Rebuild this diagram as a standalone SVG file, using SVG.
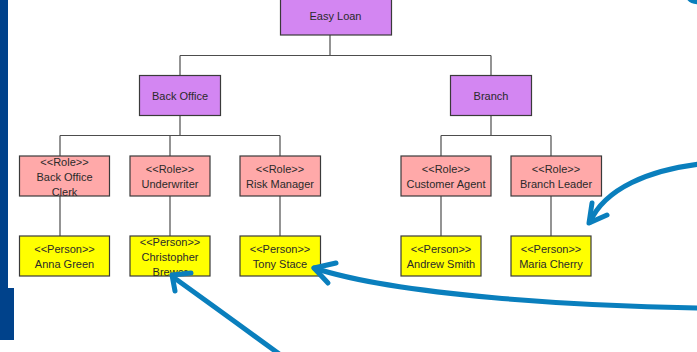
<svg xmlns="http://www.w3.org/2000/svg" width="697" height="352" viewBox="0 0 697 352">
  <style>
    .box { stroke: #3a3a3a; stroke-width: 1.2; }
    .org { fill: #d386f2; }
    .role { fill: #ffa9a9; }
    .person { fill: #ffff00; }
    .t { font-family: "Liberation Sans", Arial, sans-serif; font-size: 11px; fill: #2a2a2a; text-anchor: middle; }
    .link { fill: none; stroke: #4d4d4d; stroke-width: 1.2; }
    .callout { fill: none; stroke: #0a7fbd; stroke-width: 5; stroke-linecap: round; stroke-linejoin: round; }
  </style>

  <rect x="0" y="0" width="697" height="352" fill="#ffffff"/>

  <!-- side bar -->
  <rect x="0" y="0" width="8" height="292" fill="#00428b"/>
  <rect x="0" y="288" width="14" height="52" fill="#00428b"/>

  <!-- tree connectors -->
  <g id="connectors">
    <path class="link" d="M330,35 V55.5 M180,55.5 H491 M180,55.5 V75 M491,55.5 V75"/>
    <path class="link" d="M180,116 V135.5 M60,135.5 H280 M60,135.5 V156 M170,135.5 V156 M280,135.5 V156"/>
    <path class="link" d="M491,116 V135.5 M441,135.5 H551 M441,135.5 V156 M551,135.5 V156"/>
    <path class="link" d="M60,196 V236 M170,196 V236 M280,196 V236 M441,196 V236 M551,196 V236"/>
  </g>

  <g id="easy-loan">
    <rect class="box org" x="280.5" y="-2" width="111" height="37"/>
    <text class="t" x="335.5" y="19.5">Easy Loan</text>
  </g>
  <g id="back-office">
    <rect class="box org" x="139.5" y="75.5" width="81" height="40"/>
    <text class="t" x="180" y="99.5">Back Office</text>
  </g>
  <g id="branch">
    <rect class="box org" x="450.5" y="75.5" width="81" height="40"/>
    <text class="t" x="491" y="99.5">Branch</text>
  </g>

  <g id="role-back-office-clerk">
    <rect class="box role" x="19.5" y="156" width="90" height="40"/>
    <text class="t" x="64.5" y="165.5">&lt;&lt;Role&gt;&gt;</text>
    <text class="t" x="64.5" y="180.5">Back Office</text>
    <text class="t" x="64.5" y="195.5">Clerk</text>
  </g>
  <g id="role-underwriter">
    <rect class="box role" x="130" y="156" width="80" height="40"/>
    <text class="t" x="170" y="172.5">&lt;&lt;Role&gt;&gt;</text>
    <text class="t" x="170" y="187.5">Underwriter</text>
  </g>
  <g id="role-risk-manager">
    <rect class="box role" x="240" y="156" width="80.5" height="40"/>
    <text class="t" x="280" y="172.5">&lt;&lt;Role&gt;&gt;</text>
    <text class="t" x="280" y="187.5">Risk Manager</text>
  </g>
  <g id="role-customer-agent">
    <rect class="box role" x="401" y="156" width="90" height="40"/>
    <text class="t" x="446" y="172.5">&lt;&lt;Role&gt;&gt;</text>
    <text class="t" x="446" y="187.5">Customer Agent</text>
  </g>
  <g id="role-branch-leader">
    <rect class="box role" x="511" y="156" width="90.5" height="40"/>
    <text class="t" x="556" y="172.5">&lt;&lt;Role&gt;&gt;</text>
    <text class="t" x="556" y="187.5">Branch Leader</text>
  </g>

  <g id="person-anna-green">
    <rect class="box person" x="19.5" y="236" width="90" height="40"/>
    <text class="t" x="64.5" y="253">&lt;&lt;Person&gt;&gt;</text>
    <text class="t" x="64.5" y="268">Anna Green</text>
  </g>
  <g id="person-christopher-brewer">
    <rect class="box person" x="130" y="236" width="80" height="40"/>
    <text class="t" x="170" y="246">&lt;&lt;Person&gt;&gt;</text>
    <text class="t" x="170" y="261">Christopher</text>
    <text class="t" x="170" y="276">Brewer</text>
  </g>
  <g id="person-tony-stace">
    <rect class="box person" x="240" y="236" width="80.5" height="40"/>
    <text class="t" x="280" y="253">&lt;&lt;Person&gt;&gt;</text>
    <text class="t" x="280" y="268">Tony Stace</text>
  </g>
  <g id="person-andrew-smith">
    <rect class="box person" x="401" y="236" width="80" height="40"/>
    <text class="t" x="441" y="253">&lt;&lt;Person&gt;&gt;</text>
    <text class="t" x="441" y="268">Andrew Smith</text>
  </g>
  <g id="person-maria-cherry">
    <rect class="box person" x="511" y="236" width="80" height="40"/>
    <text class="t" x="551" y="253">&lt;&lt;Person&gt;&gt;</text>
    <text class="t" x="551" y="268">Maria Cherry</text>
  </g>

  <!-- hand-drawn callout arrows -->
  <g id="callouts">
    <path class="callout" stroke-width="4" d="M689,-2 Q692,2 700,2"/>
    <path class="callout" d="M700,164 C650,170 605,188 590,222"/>
    <polyline class="callout" points="592,203 589,223 607,215"/>
    <path class="callout" d="M700,308 C580,306 400,296 314,268"/>
    <polyline class="callout" points="336,263 314,268 328,283"/>
    <path class="callout" d="M282,356 Q230,318 173,277"/>
    <polyline class="callout" stroke-width="6" points="175,291 172,275 191,273"/>
  </g>
</svg>
